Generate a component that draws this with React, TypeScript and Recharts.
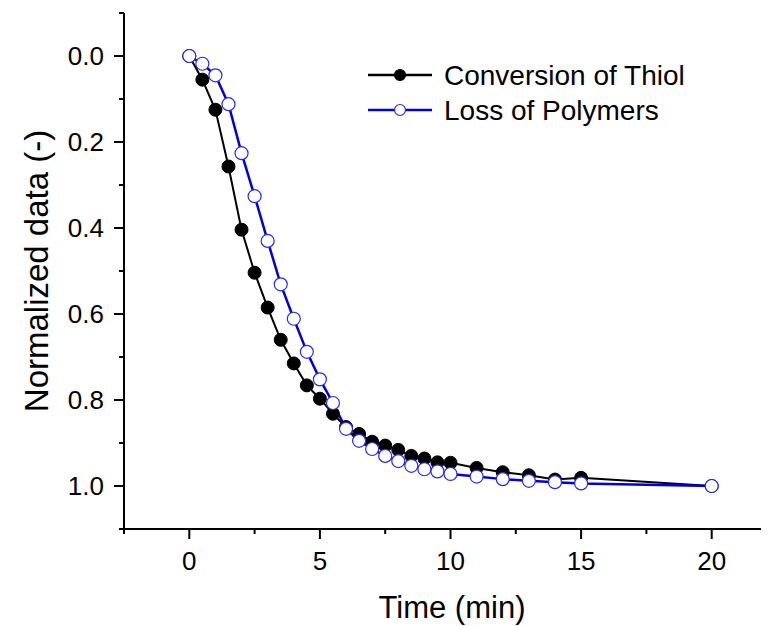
import React from 'react';
import { LineChart, Line, XAxis, YAxis, Legend } from 'recharts';

// Sampling times (min)
const time = [0, 0.5, 1, 1.5, 2, 2.5, 3, 3.5, 4, 4.5, 5, 5.5, 6, 6.5, 7, 7.5, 8, 8.5, 9, 9.5, 10, 11, 12, 13, 14, 15, 20];
// Normalized conversion of thiol
const thiolConversion = [0, 0.055, 0.125, 0.257, 0.404, 0.504, 0.585, 0.66, 0.715, 0.766, 0.797, 0.832, 0.863, 0.879, 0.897, 0.906, 0.916, 0.93, 0.936, 0.945, 0.946, 0.958, 0.968, 0.975, 0.985, 0.981, 1.0];
// Normalized loss of polymers
const polymerLoss = [0, 0.018, 0.045, 0.112, 0.226, 0.326, 0.43, 0.531, 0.611, 0.688, 0.752, 0.807, 0.867, 0.895, 0.914, 0.93, 0.942, 0.953, 0.961, 0.966, 0.972, 0.978, 0.984, 0.988, 0.991, 0.994, 1.0];

const xTicks = [-2.5, 0, 2.5, 5, 7.5, 10, 12.5, 15, 17.5, 20, 22.5];
const xLabels = [0, 5, 10, 15, 20];
const yTicks = [-0.1, 0, 0.1, 0.2, 0.3, 0.4, 0.5, 0.6, 0.7, 0.8, 0.9, 1.0, 1.1];
const yLabels = [0, 0.2, 0.4, 0.6, 0.8, 1.0];

const seriesNames = ['Conversion of Thiol', 'Loss of Polymers'];

const data = time.map((t, i) => ({ t, thiol: thiolConversion[i], polymer: polymerLoss[i] }));

const FONT = '"Liberation Sans", Arial, sans-serif';
const BLUE_LINE = '#0000dd';
const BLUE_MARK = '#2a2ae8';

const isLabel = (list: number[], v: number) => list.some((m) => Math.abs(m - v) < 1e-6);

const XTick = (props: any) => {
  const { x, y, payload } = props;
  const major = isLabel(xLabels, payload.value);
  return (
    <g>
      <line x1={x} y1={y} x2={x} y2={y + (major ? 10 : 5)} stroke="#000" strokeWidth={2} />
      {major && (
        <text x={x} y={y + 41} textAnchor="middle" fontSize={26} fontFamily={FONT} fill="#000">
          {payload.value}
        </text>
      )}
    </g>
  );
};

const YTick = (props: any) => {
  const { x, y, payload } = props;
  const major = isLabel(yLabels, payload.value);
  return (
    <g>
      <line x1={x} y1={y} x2={x - (major ? 10 : 5)} y2={y} stroke="#000" strokeWidth={2} />
      {major && (
        <text x={x - 20} y={y + 9} textAnchor="end" fontSize={26} fontFamily={FONT} fill="#000">
          {payload.value.toFixed(1)}
        </text>
      )}
    </g>
  );
};

const LegendBox = () => (
  <svg width={340} height={70} style={{ display: 'block' }}>
    {seriesNames.map((name, i) => {
      const cy = 17 + i * 35;
      const black = i === 0;
      return (
        <g key={name}>
          <line x1={2} y1={cy} x2={66} y2={cy} stroke={black ? '#000' : BLUE_LINE} strokeWidth={2.5} />
          <circle cx={34} cy={cy} r={5.5} fill={black ? '#000' : '#fff'} stroke={black ? '#000' : BLUE_MARK} strokeWidth={1.2} />
          <text x={78} y={cy + 10} fontSize={28} fontFamily={FONT} fill="#000">
            {name}
          </text>
        </g>
      );
    })}
  </svg>
);

export default function App() {
  return (
    <div style={{ width: 761, height: 620, overflow: 'hidden' }}>
      <LineChart width={780} height={620} data={data} margin={{ top: 5, right: 11, left: 56, bottom: 19 }}>
        <XAxis
          dataKey="t"
          type="number"
          domain={[-2.5, 22.5]}
          ticks={xTicks}
          allowDataOverflow
          height={80}
          tickSize={0}
          tickMargin={0}
          tick={<XTick />}
          axisLine={{ stroke: '#000', strokeWidth: 2 }}
          interval={0}
          label={{
            content: () => (
              <text x={444} y={610} textAnchor="middle" fontSize={31} fontFamily={FONT} fill="#000">
                Time (min)
              </text>
            ),
          }}
        />
        <YAxis
          type="number"
          domain={[-0.1, 1.1]}
          reversed
          ticks={yTicks}
          allowDataOverflow
          width={60}
          tickSize={0}
          tickMargin={0}
          tick={<YTick />}
          axisLine={{ stroke: '#000', strokeWidth: 2 }}
          interval={0}
          label={{
            content: () => (
              <text
                x={28}
                y={263}
                transform="rotate(-90 28 263)"
                textAnchor="middle"
                dominantBaseline="central"
                fontSize={33}
                fontFamily={FONT}
                fill="#000"
              >
                Normalized data (-)
              </text>
            ),
          }}
        />
        <Legend
          layout="vertical"
          align="center"
          verticalAlign="middle"
          content={<LegendBox />}
          wrapperStyle={{ top: 50, left: 358, width: 340, height: 70 }}
        />
        <Line
          dataKey="thiol"
          name={seriesNames[0]}
          stroke="#000"
          strokeWidth={2}
          dot={{ r: 6.5, fill: '#000', stroke: '#000', strokeWidth: 1 }}
          isAnimationActive={false}
        />
        <Line
          dataKey="polymer"
          name={seriesNames[1]}
          stroke={BLUE_LINE}
          strokeWidth={2.5}
          dot={{ r: 6.5, fill: '#fff', stroke: BLUE_MARK, strokeWidth: 1.2 }}
          isAnimationActive={false}
        />
      </LineChart>
    </div>
  );
}
